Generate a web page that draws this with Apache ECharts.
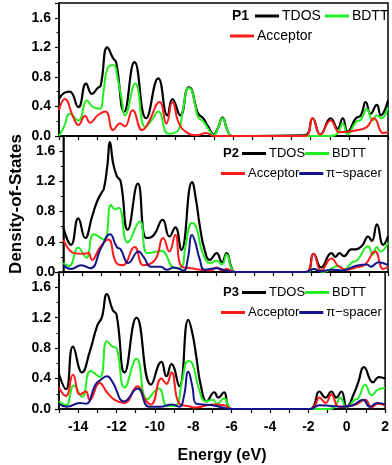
<!DOCTYPE html>
<html><head><meta charset="utf-8">
<script src="https://cdn.jsdelivr.net/npm/echarts@6/dist/echarts.min.js"></script>
<style>html,body{margin:0;padding:0;background:#fff}#c{width:392px;height:465px}</style>
</head><body><div id="c"></div>
<script>
// ---------- DATA ----------
const panelNames = ['P1', 'P2', 'P3'];
const seriesNames = ['TDOS', 'BDTT', 'Acceptor', 'π−spacer'];
const yTickValues = [0.0, 0.4, 0.8, 1.2, 1.6];
const xTickValues = [-14, -12, -10, -8, -6, -4, -2, 0, 2];

// Panel 1
const p1TdosE = [-15, -14.75, -14.45, -14.0, -13.6, -13.3, -13.0, -12.85, -12.5, -12.2, -12.05, -11.63, -11.1, -10.5, -9.87, -9.4, -9.14, -8.73, -8.3, -8.15, -7.95, -7.8, -7.55, -7.3, -7.0, -6.8, -6.55, -6.3, -6.05, -2.3, -1.9, -1.5, -0.96, -0.6, -0.34, -0.08, 0.34, 0.6, 0.85, 1.1, 1.42, 1.63, 2.0];
const p1TdosV = [0.5, 0.58, 0.6, 0.39, 0.71, 0.57, 0.65, 0.68, 1.2, 1.05, 1.0, 0.33, 1.0, 0.24, 0.78, 0.28, 0.5, 0.28, 0.66, 0.63, 0.42, 0.3, 0.24, 0.13, 0.02, 0.1, 0.25, 0.08, 0.0, 0.01, 0.24, 0.02, 0.24, 0.1, 0.24, 0.06, 0.24, 0.28, 0.46, 0.3, 0.42, 0.28, 0.48];
const p1BdttE = [-15, -14.75, -14.43, -14.0, -13.55, -13.24, -12.9, -12.7, -12.5, -12.2, -11.95, -11.75, -11.6, -11.06, -10.54, -10.2, -9.87, -9.35, -8.83, -8.6, -8.3, -8.15, -7.95, -7.8, -7.55, -7.3, -7.0, -6.8, -6.55, -6.3, -6.05, -1.0, -0.6, -0.34, -0.08, 0.34, 0.6, 0.9, 1.2, 1.42, 1.65, 2.0];
const p1BdttV = [0.0, 0.12, 0.3, 0.21, 0.48, 0.39, 0.37, 0.6, 0.91, 0.96, 0.75, 0.48, 0.28, 0.71, 0.12, 0.22, 0.33, 0.03, 0.08, 0.35, 0.65, 0.62, 0.4, 0.25, 0.2, 0.1, 0.01, 0.1, 0.24, 0.08, 0.0, 0.0, 0.04, 0.17, 0.02, 0.19, 0.22, 0.37, 0.21, 0.28, 0.24, 0.39];
const p1AccE = [-15, -14.7, -14.27, -14.0, -13.65, -13.4, -13.0, -12.6, -12.2, -11.85, -11.6, -11.2, -10.7, -10.4, -9.8, -9.45, -9.14, -8.8, -8.4, -7.9, -7.4, -7.0, -2.3, -1.9, -1.5, -0.96, -0.5, 0.0, 0.44, 0.9, 1.27, 1.75, 2.0];
const p1AccV = [0.35, 0.5, 0.26, 0.15, 0.27, 0.18, 0.28, 0.33, 0.08, 0.17, 0.13, 0.35, 0.08, 0.17, 0.46, 0.17, 0.46, 0.17, 0.05, 0.01, 0.04, 0.0, 0.0, 0.24, 0.02, 0.21, 0.05, 0.06, 0.08, 0.12, 0.24, 0.04, 0.05];

// Panel 2
const p2TdosE = [-15, -14.6, -14.22, -13.86, -13.5, -13.24, -13.0, -12.88, -12.7, -12.56, -12.4, -12.2, -12.0, -11.63, -11.1, -10.65, -10.3, -9.8, -9.45, -9.14, -8.83, -8.26, -8.05, -7.85, -7.6, -7.33, -6.97, -6.7, -6.45, -6.2, -6.0, -2.3, -1.9, -1.5, -0.96, -0.75, -0.55, -0.3, 0.08, 0.3, 0.65, 0.96, 1.15, 1.42, 1.75, 2.0];
const p2TdosV = [0.59, 0.36, 0.71, 0.45, 0.73, 0.93, 1.05, 1.1, 1.4, 1.72, 1.45, 1.27, 1.2, 0.56, 1.17, 0.45, 0.48, 0.69, 0.47, 0.59, 0.29, 1.19, 0.95, 0.6, 0.29, 0.16, 0.25, 0.13, 0.25, 0.06, 0.0, 0.0, 0.24, 0.06, 0.25, 0.2, 0.25, 0.21, 0.3, 0.3, 0.35, 0.47, 0.41, 0.63, 0.36, 0.47];
const p2BdttE = [-15, -14.7, -14.22, -13.8, -13.4, -12.88, -12.5, -12.3, -12.1, -11.63, -11.0, -10.6, -10.1, -9.87, -9.14, -8.83, -8.6, -8.26, -8.05, -7.7, -7.3, -6.97, -6.7, -6.45, -6.2, -6.0, -2.2, -1.9, -1.4, -0.6, -0.3, 0.08, 0.4, 0.96, 1.2, 1.42, 1.6, 2.0];
const p2BdttV = [0.12, 0.08, 0.32, 0.19, 0.5, 0.43, 0.89, 0.83, 0.85, 0.39, 0.67, 0.25, 0.27, 0.28, 0.05, 0.06, 0.35, 0.65, 0.6, 0.25, 0.12, 0.15, 0.1, 0.23, 0.05, 0.0, 0.0, 0.04, 0.0, 0.08, 0.03, 0.12, 0.16, 0.34, 0.23, 0.33, 0.27, 0.39];
const p2AccE = [-15, -14.43, -14.0, -13.7, -13.5, -13.1, -12.65, -12.25, -11.9, -11.27, -10.8, -10.2, -9.77, -9.45, -9.14, -8.8, -8.3, -7.8, -7.3, -6.97, -6.7, -6.45, -6.0, -2.3, -1.9, -1.5, -0.96, -0.6, -0.1, 0.3, 0.8, 1.32, 1.75, 2.0];
const p2AccV = [0.43, 0.25, 0.24, 0.25, 0.16, 0.32, 0.43, 0.13, 0.09, 0.33, 0.09, 0.16, 0.45, 0.27, 0.49, 0.07, 0.05, 0.03, 0.02, 0.06, 0.02, 0.04, 0.0, 0.0, 0.24, 0.02, 0.18, 0.08, 0.03, 0.06, 0.1, 0.27, 0.04, 0.07];
const p2SpcE = [-15, -14.6, -14.07, -13.6, -13.0, -12.56, -12.2, -12.0, -11.6, -11.06, -10.8, -10.4, -9.9, -9.6, -9.2, -8.7, -8.5, -8.26, -8.1, -7.85, -7.6, -7.0, -6.5, -6.0, -2.3, -1.9, -1.5, -0.96, -0.4, 0.3, 0.9, 1.1, 1.5, 2.0];
const p2SpcV = [0.09, 0.04, 0.09, 0.05, 0.33, 0.5, 0.33, 0.3, 0.12, 0.27, 0.2, 0.07, 0.07, 0.03, 0.06, 0.02, 0.15, 0.49, 0.4, 0.16, 0.03, 0.05, 0.02, 0.0, 0.0, 0.04, 0.01, 0.03, 0.02, 0.08, 0.1, 0.07, 0.13, 0.09];

// Panel 3
const p3TdosE = [-15, -14.64, -14.27, -13.8, -13.4, -13.0, -12.77, -12.5, -12.2, -12.0, -11.58, -10.96, -10.2, -9.66, -9.4, -9.14, -8.73, -8.26, -8.05, -7.85, -7.6, -7.3, -6.9, -6.7, -6.4, -6.2, -6.0, -1.9, -1.7, -1.43, -1.1, -0.8, -0.55, -0.28, 0.0, 0.42, 0.6, 0.9, 1.37, 1.68, 2.0];
const p3TdosV = [0.46, 0.26, 0.82, 0.48, 0.75, 1.1, 1.2, 1.51, 1.3, 1.24, 0.48, 1.2, 0.32, 0.62, 0.43, 0.59, 0.3, 1.17, 1.0, 0.7, 0.3, 0.1, 0.22, 0.15, 0.22, 0.05, 0.0, 0.0, 0.05, 0.23, 0.15, 0.23, 0.15, 0.23, 0.03, 0.23, 0.35, 0.55, 0.35, 0.42, 0.4];
const p3BdttE = [-15, -14.64, -14.22, -13.8, -13.35, -12.88, -12.5, -12.2, -12.0, -11.58, -10.96, -10.4, -9.8, -9.35, -8.9, -8.6, -8.26, -8.05, -7.7, -7.35, -7.0, -6.75, -6.4, -6.15, -6.0, -1.0, -0.6, -0.34, 0.0, 0.4, 0.6, 0.96, 1.3, 1.6, 2.0];
const p3BdttV = [0.1, 0.05, 0.31, 0.16, 0.5, 0.42, 0.89, 0.82, 0.8, 0.28, 0.66, 0.13, 0.27, 0.04, 0.05, 0.35, 0.63, 0.6, 0.26, 0.1, 0.12, 0.07, 0.14, 0.03, 0.0, 0.0, 0.04, 0.15, 0.02, 0.12, 0.14, 0.32, 0.18, 0.25, 0.28];
const p3AccE = [-15, -14.64, -14.27, -13.9, -13.6, -13.4, -12.88, -12.5, -12.1, -11.6, -10.9, -10.5, -10.2, -9.66, -9.4, -9.14, -8.73, -8.3, -7.9, -7.0, -6.4, -6.0, -1.9, -1.65, -1.43, -1.1, -0.8, -0.4, 0.2, 0.5, 0.96, 1.3, 1.6, 2.0];
const p3AccV = [0.28, 0.17, 0.45, 0.19, 0.23, 0.12, 0.34, 0.22, 0.12, 0.08, 0.3, 0.12, 0.06, 0.4, 0.33, 0.48, 0.07, 0.04, 0.02, 0.06, 0.05, 0.0, 0.0, 0.05, 0.15, 0.08, 0.19, 0.03, 0.04, 0.06, 0.12, 0.02, 0.07, 0.05];
const p3SpcE = [-15, -14.6, -13.9, -13.6, -13.1, -12.9, -12.5, -12.2, -11.6, -10.9, -10.3, -9.7, -9.14, -8.73, -8.5, -8.26, -8.05, -7.85, -7.5, -7.0, -6.0, -1.9, -1.43, -0.8, -0.2, 0.3, 0.85, 1.2, 1.6, 2.0];
const p3SpcV = [0.07, 0.03, 0.08, 0.07, 0.32, 0.37, 0.43, 0.35, 0.1, 0.27, 0.03, 0.03, 0.06, 0.03, 0.15, 0.49, 0.3, 0.07, 0.06, 0.05, 0.0, 0.0, 0.05, 0.04, 0.03, 0.05, 0.12, 0.03, 0.08, 0.06];

// ---------- BUILD ----------
const colors = {'TDOS': '#000000', 'BDTT': '#22ee22', 'Acceptor': '#ff1a1a', 'π−spacer': '#14148a'};
const panels = [
  [['TDOS', p1TdosE, p1TdosV], ['BDTT', p1BdttE, p1BdttV], ['Acceptor', p1AccE, p1AccV]],
  [['TDOS', p2TdosE, p2TdosV], ['BDTT', p2BdttE, p2BdttV], ['Acceptor', p2AccE, p2AccV], ['π−spacer', p2SpcE, p2SpcV]],
  [['TDOS', p3TdosE, p3TdosV], ['BDTT', p3BdttE, p3BdttV], ['Acceptor', p3AccE, p3AccV], ['π−spacer', p3SpcE, p3SpcV]]
];
const FONT = 'Arial, "Liberation Sans", sans-serif';
const gridTops = [3, 136, 272];
const gridHeights = [133, 136, 137];

function isYTick(v) {
  return yTickValues.some(t => Math.abs(t - v) < 1e-6);
}

const grids = [], xAxes = [], yAxes = [], series = [];
for (let i = 0; i < 3; i++) {
  grids.push({left: 59, right: 4, top: gridTops[i], height: gridHeights[i], show: true, borderColor: '#000', borderWidth: 1.5, backgroundColor: 'transparent'});
  xAxes.push({
    type: 'value', gridIndex: i, min: -15, max: 2, interval: 1,
    axisLine: {show: true, onZero: false, lineStyle: {color: '#000', width: 1.5}},
    axisTick: {show: true, length: 4, lineStyle: {color: '#000', width: 1.2}},
    splitLine: {show: false},
    axisLabel: {show: i === 2, margin: 11, color: '#000', fontFamily: FONT, fontWeight: 'bold', fontSize: 14,
      formatter: v => (xTickValues.indexOf(v) >= 0 ? String(v) : '')},
    name: i === 2 ? 'Energy (eV)' : '', nameLocation: 'middle', nameGap: 39,
    nameTextStyle: {color: '#000', fontFamily: FONT, fontWeight: 'bold', fontSize: 16}
  });
  yAxes.push({
    type: 'value', gridIndex: i, min: 0, max: 1.8, interval: 0.4,
    axisLine: {show: true, onZero: false, lineStyle: {color: '#000', width: 1.5}},
    axisTick: {show: true, length: 4, lineStyle: {color: '#000', width: 1.2}},
    minorTick: {show: true, splitNumber: 2, length: 2.5, lineStyle: {color: '#000', width: 1}},
    splitLine: {show: false},
    axisLabel: {margin: 8, color: '#000', fontFamily: FONT, fontWeight: 'bold', fontSize: 14,
      formatter: v => (isYTick(v) ? v.toFixed(1) : '')},
    name: i === 1 ? 'Density-of-States' : '', nameLocation: 'middle', nameGap: 37,
    nameTextStyle: {color: '#000', fontFamily: FONT, fontWeight: 'bold', fontSize: 17}
  });
  panels[i].forEach(([name, E, V]) => {
    series.push({
      type: 'line', name: name, xAxisIndex: i, yAxisIndex: i,
      data: E.map((e, j) => [e, V[j]]),
      smooth: 0.5, symbol: 'none', color: colors[name],
      lineStyle: {color: colors[name], width: name === 'TDOS' ? 2.2 : 2}
    });
  });
}

const legendBase = {orient: 'horizontal', icon: 'rect', itemWidth: 24, itemHeight: 3, itemGap: 0, padding: 0,
  selectedMode: false, textStyle: {color: '#000', fontFamily: FONT, fontSize: 13, padding: [0, 0, 0, -2]}};
const legends = [
  Object.assign({}, legendBase, {left: 255, top: 9, itemGap: 4, textStyle: Object.assign({}, legendBase.textStyle, {fontSize: 14})}),
  Object.assign({}, legendBase, {left: 230, top: 29, textStyle: Object.assign({}, legendBase.textStyle, {fontSize: 14})}),
  Object.assign({}, legendBase, {left: 242, top: 147}),
  Object.assign({}, legendBase, {left: 221, top: 167}),
  Object.assign({}, legendBase, {left: 242, top: 286}),
  Object.assign({}, legendBase, {left: 221, top: 306})
];
const legendData = [['TDOS', 'BDTT'], ['Acceptor'], ['TDOS', 'BDTT'], ['Acceptor', 'π−spacer'], ['TDOS', 'BDTT'], ['Acceptor', 'π−spacer']];
legends.forEach((l, i) => { l.data = legendData[i]; });
const titleLefts = [232, 223, 223];
const titleTops = [9, 147, 286];
const titles = panelNames.map((t, i) => ({text: t, left: titleLefts[i], top: titleTops[i], padding: 0,
  textStyle: {color: '#000', fontFamily: FONT, fontWeight: 'bold', fontSize: i === 0 ? 14 : 13}}));

const chart = echarts.init(document.getElementById('c'), null, {renderer: 'canvas'});
chart.setOption({
  animation: false,
  backgroundColor: '#fff',
  title: titles,
  legend: legends,
  grid: grids, xAxis: xAxes, yAxis: yAxes, series: series
});
</script>
</body></html>
